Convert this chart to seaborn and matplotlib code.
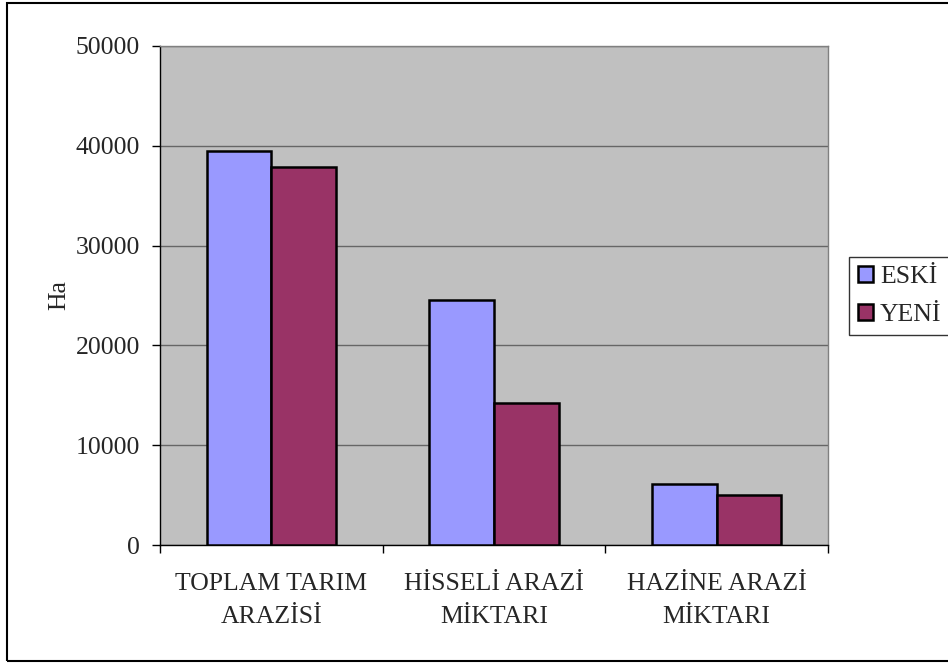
import matplotlib
matplotlib.use("Agg")
import matplotlib.pyplot as plt
import matplotlib.patches as mpatches
import pandas as pd
import seaborn as sns

categories = ["TOPLAM TARIM\nARAZİSİ", "HİSSELİ ARAZİ\nMİKTARI", "HAZİNE ARAZİ\nMİKTARI"]
eski = [39500, 24500, 6100]
yeni = [37900, 14200, 5000]
series = ["ESKİ", "YENİ"]
colors = ["#9999FF", "#993366"]
y_ticks = [0, 10000, 20000, 30000, 40000, 50000]

df = pd.DataFrame({
    "kategori": categories * 2,
    "seri": [series[0]] * 3 + [series[1]] * 3,
    "deger": eski + yeni,
})

sns.set_style("white")
plt.rcParams["font.family"] = ["Liberation Serif", "DejaVu Serif"]
fs = 18.5

fig = plt.figure(figsize=(9.48, 6.64), dpi=100)
ax = fig.add_axes([160 / 948, 1 - 545 / 664, 668 / 948, 499 / 664])
ax.set_facecolor("#C0C0C0")

sns.barplot(data=df, x="kategori", y="deger", hue="seri", order=categories,
            hue_order=series, palette=colors, saturation=1, width=0.58,
            edgecolor="black", linewidth=1.8, ax=ax, legend=False, zorder=3)

# gridlines
ax.set_ylim(0, 50000)
ax.set_yticks(y_ticks)
ax.yaxis.grid(True, color="#666666", linewidth=1.0, zorder=0)
ax.set_axisbelow(True)
ax.tick_params(axis="y", direction="out", length=5.5, width=1, pad=9,
               labelsize=fs, left=True, color="black")

# category labels without ticks, boundary ticks as minor
ax.set_xlim(-0.5, 2.5)
ax.tick_params(axis="x", which="major", length=0, pad=20, labelsize=fs)
ax.set_xticks([-0.5, 0.5, 1.5, 2.5], minor=True)
ax.tick_params(axis="x", which="minor", direction="out", length=6, width=1,
               color="black", bottom=True)
for lbl in ax.get_xticklabels():
    lbl.set_linespacing(1.65)

ax.set_xlabel("")
ax.set_ylabel("Ha", fontsize=fs)
ax.yaxis.set_label_coords(-0.135, 0.5)

for side in ["left", "bottom"]:
    ax.spines[side].set_color("black")
    ax.spines[side].set_linewidth(1)
for side in ["top", "right"]:
    ax.spines[side].set_color("#808080")
    ax.spines[side].set_linewidth(1)

handles = [mpatches.Patch(facecolor=c, edgecolor="black", linewidth=1.8, label=s)
           for c, s in zip(colors, series)]
leg = fig.legend(handles=handles, loc="upper left",
                 bbox_to_anchor=(849 / 948, 1 - 257 / 664),
                 frameon=True, fancybox=False, fontsize=fs,
                 handlelength=0.6, handleheight=0.6, handletextpad=0.25,
                 borderpad=0.35, labelspacing=0.6, borderaxespad=0)
leg.get_frame().set_edgecolor("black")
leg.get_frame().set_linewidth(1)

# outer chart border
fig.patches.append(mpatches.Rectangle((7 / 948, 3 / 664), 1.0, 658 / 664,
                                      transform=fig.transFigure, fill=False,
                                      edgecolor="black", linewidth=1.5))

fig.savefig("out.png", dpi=100)
